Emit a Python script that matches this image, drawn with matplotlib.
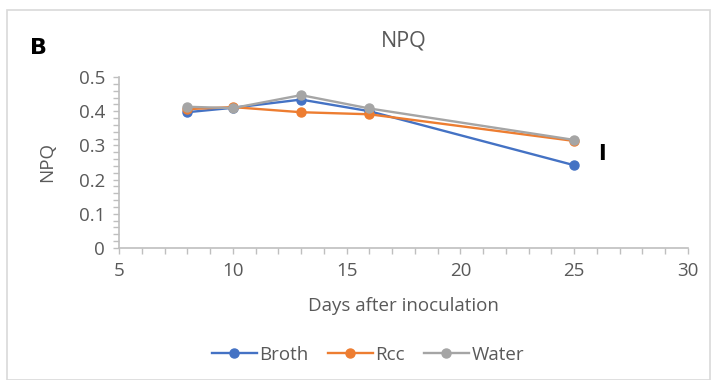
import numpy as np
from matplotlib import pyplot as plt
from matplotlib.ticker import MultipleLocator
from matplotlib.patches import Rectangle

plt.rcParams['font.family'] = ['Open Sans', 'DejaVu Sans']

days = [8, 10, 13, 16, 25]
broth = [0.397, 0.410, 0.434, 0.400, 0.242]
rcc = [0.406, 0.412, 0.397, 0.391, 0.313]
water = [0.413, 0.409, 0.447, 0.408, 0.316]

series = [('Broth', broth, '#4472C4'),
          ('Rcc', rcc, '#ED7D31'),
          ('Water', water, '#A5A5A5')]

text_col = '#595959'
axis_col = '#BFBFBF'

fig = plt.figure(figsize=(7.17, 3.8), dpi=100)
# chart area frame
fig.patches.append(Rectangle((7 / 717, 0), 703 / 717, 1 - 10 / 380,
                             transform=fig.transFigure, fill=False,
                             edgecolor='#D9D9D9', linewidth=1.2))

ax = fig.add_axes([119 / 717, 1 - 248 / 380, 569 / 717, 171 / 380])
for name, vals, col in series:
    ax.plot(days, vals, color=col, linewidth=1.7, marker='o',
            markersize=6.5, label=name)

ax.set_xlim(5, 30)
ax.set_ylim(0, 0.5)
ax.xaxis.set_major_locator(MultipleLocator(5))
ax.xaxis.set_minor_locator(MultipleLocator(1))
ax.yaxis.set_major_locator(MultipleLocator(0.1))
ax.yaxis.set_minor_locator(MultipleLocator(0.02))
ax.yaxis.set_major_formatter(plt.FuncFormatter(lambda v, p: '0' if v == 0 else f'{v:.1f}'))

for s in ['top', 'right']:
    ax.spines[s].set_visible(False)
for s in ['left', 'bottom']:
    ax.spines[s].set_color(axis_col)
    ax.spines[s].set_linewidth(1.2)
ax.tick_params(which='both', direction='out', color=axis_col, width=1.0,
               length=4, labelcolor=text_col, labelsize=13.5, pad=6)

ax.set_xlabel('Days after inoculation', fontsize=13.5, color=text_col, labelpad=12)
ax.set_ylabel('NPQ', fontsize=13.5, color=text_col, labelpad=16)
ax.set_title('NPQ', fontsize=15.5, color=text_col, pad=22)

fig.text(30 / 717, 1 - 48 / 380, 'B', fontsize=16, fontweight='bold',
         va='center', ha='left', family='DejaVu Sans')
ax.text(26.2, 0.275, 'I', fontsize=15, fontweight='bold', va='center',
        ha='center', family='DejaVu Sans')

fig.legend(loc='center', bbox_to_anchor=(368 / 717, 1 - 355 / 380), ncol=3,
           frameon=False, fontsize=13.5, handlelength=2.4, columnspacing=1.0,
           handletextpad=0.15, labelcolor=text_col)

fig.savefig('out.png', dpi=100)
